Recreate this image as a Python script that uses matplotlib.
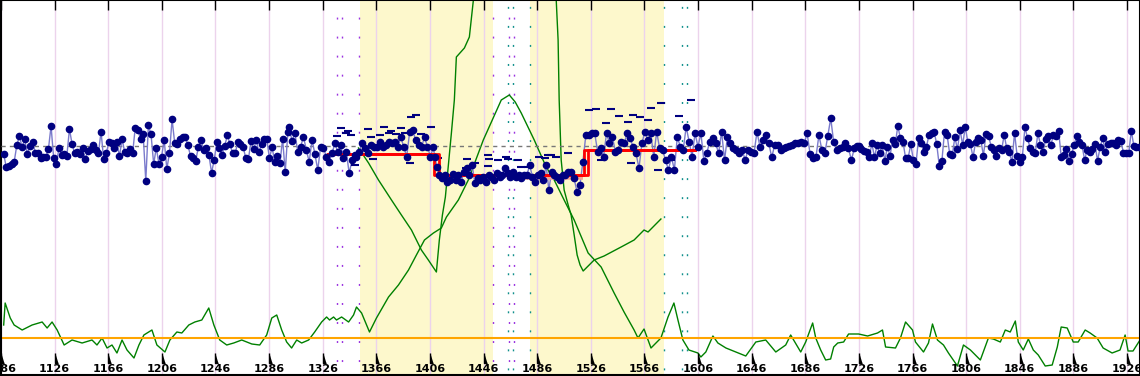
import numpy as np
import matplotlib.pyplot as plt
from matplotlib.path import Path

plt.rcParams['lines.scale_dashes'] = False

# axis
x_ticks = [1086, 1126, 1166, 1206, 1246, 1286, 1326, 1366, 1406, 1446, 1486,
           1526, 1566, 1606, 1646, 1686, 1726, 1766, 1806, 1846, 1886, 1926]
x_lim = (1087.6, 1935.7)
y_lim = (1.5, 376)

# shaded phases and event markers
phases = [(1353.5, 1453.2), (1480.8, 1580.6)]
purple_marks = [1336.3, 1340.1, 1352.7, 1453.2, 1465.2, 1468.9]
teal_marks = [1464.4, 1468.1, 1480.8, 1580.6, 1594.0, 1597.7]

centre_line = 230
limit_line = 38

# measured values (blue), in segments
blue_a = [221.7, 208.7, 210, 211.7, 214.3, 231, 240, 228.7, 236.7, 222, 230, 234.3, 223.3, 223.3,
          218.3, 218.7, 218.7, 226.7, 250, 217.7, 211.7, 227.7, 221, 222, 220, 247, 231.7, 222.7,
          224.3, 221.7, 227.7, 217, 224.7, 226.7, 231, 226, 222.7, 244.3, 216.7, 222.7, 234.3,
          232.7, 227.7, 233.7, 219.7, 237, 223.7, 223.3, 226.7, 222.7, 248.3, 246, 236.7, 242,
          195.3, 250.7, 241.7, 212, 228.3, 212, 219.3, 236, 207, 222.7, 256.7, 232.7, 232, 236.7,
          238.7, 239.3, 231, 220, 217.7, 215.3, 229.3, 236, 226, 228.3, 221, 203.3, 216, 233.7,
          228.3, 221, 230, 240.7, 232, 222.7, 222.7, 234.3, 232, 229.3, 217.7, 216.7, 235, 226.7,
          236, 223.7, 231.7, 236.7, 236.7, 217.7, 228.7, 214.3, 220, 212.7, 237.3, 203.7, 244.3]
blue_b = [248.7, 235, 242.7, 224.3, 229.3, 239.3, 226, 214.3, 236, 222, 206, 229.3, 228, 219.3,
          214.3, 222.7, 232.7, 224.3, 231, 218, 224.3, 202.7, 216, 221]
blue_c = [219.3, 224.3, 232.7, 227.7, 222.7, 231, 229.3, 229.3, 234.3, 229.3, 231, 234.3, 232.7,
          234.3, 229.3, 238.7, 229.3, 219.3, 244.3, 246, 236, 231, 229.3, 238.7, 229.3, 219.3, 229.3]
blue_d = [219.3, 209.3, 201]
blue_e = [197.7, 201, 194.3, 196, 202, 196, 201, 194.3, 204.3, 207.7, 201, 211, 192.7, 197.7, 196,
          199.3, 194.3, 201, 199.3, 196, 202.7, 199.3, 201, 207.7, 202.7, 199.3, 204.3, 199.3, 201,
          197.7, 201, 201, 211, 199.3, 194.3, 201, 203.3, 196, 211, 186, 204.3, 201, 199.3, 196,
          201, 201, 204.3]
blue_f = [204.3, 197.7, 184.3, 191, 214.3, 241, 241, 242.7, 242.7, 224.3, 227.7, 219.3, 242.7,
          232.7, 239.3, 224.3, 226, 234.3, 232.7, 242.7, 237.7, 229.3, 222.7, 207.7, 232.7, 244.3,
          236, 242.7, 219.3, 244.3, 227.7, 226, 216, 206, 219.3, 206, 239.3, 229.3, 226, 249.3,
          234.3, 219.3, 242.7, 229.3, 242.7, 215, 223.3, 234.3, 237.7, 232.7, 222.7, 244.3, 216,
          239.3, 232.7, 227.7, 226, 222.7, 226, 216, 226, 224.3, 222.7, 244.3, 229.3, 236, 241,
          232.7, 218.7, 231, 231, 226, 227.7, 229.3, 230, 231, 232.7, 233.3, 234.3, 232.7, 242.7,
          222, 217.7, 219.3, 241, 226, 222.7, 240, 257.7, 233.7, 226, 227.7, 229.3, 233.3, 227.7,
          216, 227.7, 230]
blue_g = [230, 226.7, 225.3, 224.3, 218.7, 232.7, 218.7, 231, 222.7, 231, 215.3, 229.3, 220, 236,
          231.7, 250, 237.7, 234.3, 217.7, 218.3, 231.7, 216, 211.7, 238.3, 232.7, 224.3, 228.7,
          241, 242.7, 244.3, 231.7, 210, 215.3, 244.3, 241, 222, 221, 238.7, 226.7, 246, 231,
          249.3, 233.7, 231.7, 218.7, 234.3, 237.7, 236, 220.3, 242, 240, 229.3, 226, 220.3, 227.7,
          226, 241, 227.7, 223.7, 213.7, 243.3, 220, 214.3, 218.7, 248.7, 238.3, 227.7, 224.3,
          223.3, 242.7, 231, 224.3, 236.7, 240, 231, 241, 240, 245, 218.7, 221, 226.7, 215.3, 222,
          231, 240.3, 234.3, 231, 216, 226, 224.3, 226.7, 231.7, 215.3, 228.7, 237.7, 224.3, 232,
          232.7, 232.7, 231, 236, 235.3, 222.7, 223.3, 222.7, 245, 230, 229.3, 228.7]
blue_spans = [(1088, 1300), (1301, 1350), (1351, 1408.6), (1409.5, 1413), (1415, 1509),
              (1511.3, 1724.8), (1726, 1935)]

# fitted level (red steps)
level_x = [1329.6, 1409.3, 1521.0, 1603.7]
level_x2 = [1329.6, 1413.0, 1524.0, 1603.7]
level_y = [222, 201, 226, 226]

# sub-group high/low marks
dash_x = [1339.5, 1345, 1360, 1363.6, 1371.8, 1377.3, 1384.2, 1391, 1392.2, 1395.9, 1399.6, 1407,
          1412, 1361.9, 1368.9, 1375.3, 1381, 1387.2, 1336.5, 1343, 1347, 1350,
          1433.1, 1439.3, 1449.3, 1456.7, 1464.2, 1471.6, 1479.1, 1487.7, 1494, 1508.9, 1500.2,
          1434, 1449, 1450, 1463, 1474, 1491.5, 1496.5,
          1525, 1530, 1541.1, 1547.3, 1557.2, 1562.9, 1570.9, 1578.3, 1592, 1600.7, 1537.4,
          1553.5, 1568.4, 1533.7, 1556, 1575.9, 1585.8]
dash_y = [247.7, 245.3, 246.7, 216.7, 248.7, 245, 247.7, 212.7, 258.7, 261, 242, 248.7,
          217.7, 239.3, 241, 243.3, 242, 242.7, 240, 242.7, 241, 211,
          207.7, 212.7, 210, 216, 216.7, 216, 209.3, 219.3, 221, 223.3, 219.3,
          216.7, 221, 216.7, 218.7, 209.3, 217.7, 221,
          266, 266.7, 266.7, 260, 261, 258.7, 267.7, 273.3, 260, 276, 252.7,
          254.3, 256, 216, 212.7, 206, 216]

# green statistic (continuous)
stat_x = [1088, 1089.1, 1092.9, 1095.8, 1101.8, 1109.2, 1116.7, 1120.4, 1124.1, 1127.9, 1133.1,
          1139.0, 1146.5, 1153.9, 1157.6, 1161.4, 1165.1, 1168.8, 1172.5, 1176.3, 1180.0, 1185.2,
          1188.9, 1192.6, 1198.6, 1202.3, 1208.3, 1212.0, 1217.2, 1220.9, 1226.1, 1230.6, 1235.8,
          1241.0, 1244.8, 1249.2, 1254.4, 1259.6, 1265.6, 1273.1, 1279.0, 1284.2, 1288.0, 1291.7,
          1295.4, 1299.1, 1302.8, 1306.6, 1310.3, 1315.5, 1320.0, 1325.2, 1328.9, 1331.1, 1334.1,
          1336.3, 1340.1, 1345.3, 1349.0, 1351.2, 1355.0, 1360.9, 1366.1, 1375.1, 1382.5, 1390.0,
          1395.9, 1401.9, 1408.6, 1414.5, 1418.3, 1427.2, 1434.6, 1445.8, 1453.2, 1459.2, 1465.2,
          1469.6, 1474.1, 1483.8, 1492.7, 1498.7, 1506.1, 1513.6, 1524.0, 1533.7, 1543.4, 1550.8,
          1558.3, 1561.2, 1565.7, 1570.9, 1578.3, 1583.6, 1588.0, 1591.0, 1594.7, 1599.2, 1605.9,
          1608.1, 1611.8, 1617.1, 1620.8, 1626.8, 1634.2, 1641.6, 1649.1, 1656.5, 1664.0, 1671.4,
          1675.1, 1682.6, 1686.3, 1691.5, 1693.8, 1697.5, 1701.2, 1704.9, 1707.2, 1710.2, 1714.6,
          1718.3, 1725.8, 1732.5, 1739.9, 1743.6, 1745.9, 1753.3, 1757.0, 1760.8, 1766.0, 1768.2,
          1774.2, 1777.9, 1780.9, 1784.6, 1789.1, 1792.8, 1799.5, 1804.0, 1809.2, 1816.6, 1822.6,
          1826.3, 1831.5, 1835.2, 1838.9, 1842.7, 1844.9, 1848.6, 1852.4, 1856.1, 1859.8, 1865.0,
          1870.2, 1874.0, 1876.9, 1881.4, 1885.9, 1889.6, 1894.8, 1898.5, 1903.7, 1908.2, 1914.9,
          1920.8, 1924.6, 1926.8, 1930.5, 1934.3, 1935.7]
stat_y = [51, 73, 58, 51, 46, 51, 54, 48, 54, 46, 31, 36, 33, 36, 31, 38, 28, 31, 23, 36, 26, 18,
          31, 41, 46, 31, 24, 36, 44, 43, 51, 54, 56, 68, 51, 36, 31, 33, 36, 32, 31, 41, 58, 61,
          46, 34, 28, 36, 33, 36, 44, 54, 59, 56, 59, 56, 59, 54, 61, 69, 63, 44, 58, 79, 91, 106,
          121, 136, 143, 148, 159, 176, 196, 236, 258, 276, 281, 274, 263, 236, 209, 196, 176, 156,
          123, 109, 83, 64, 46, 38, 47, 28, 38, 59, 73, 56, 36, 26, 23, 19, 24, 40, 33, 28, 24, 20,
          34, 36, 24, 31, 41, 24, 34, 53, 38, 26, 16, 17, 29, 33, 34, 42, 42, 40, 43, 46, 29, 28,
          38, 54, 46, 34, 24, 33, 52, 36, 31, 23, 10, 31, 26, 16, 38, 37, 34, 46, 44, 55, 34, 26,
          37, 26, 21, 10, 11, 29, 49, 48, 34, 34, 46, 43, 38, 28, 23, 26, 41, 25, 25, 33, 36]

# green cusum-like curves
cus_up_x = [1352.7, 1360.2, 1367.6, 1377.3, 1384.7, 1392.2, 1399.6, 1404.8, 1410.8, 1413.0, 1415.3,
            1417.5, 1422.0, 1424.2, 1425.7, 1431.7, 1435.4, 1438.4, 1441.3]
cus_up_y = [228, 213, 196, 176, 161, 146, 126, 116, 104, 136, 161, 179, 243, 276, 319, 328, 339,
            376, 436]
cus_dn_x = [1498.7, 1500.2, 1501.6, 1502.4, 1503.9, 1506.1, 1509.1, 1511.3, 1513.6, 1515.8, 1518.0,
            1520.3, 1528.5, 1535.9, 1548.6, 1558.3, 1565.7, 1568.7, 1578.3]
cus_dn_y = [436, 376, 336, 276, 216, 186, 171, 161, 141, 121, 111, 105, 116, 120, 129, 136, 146,
            144, 157]

fig = plt.figure(figsize=(11.4, 3.76), dpi=100)
ax = fig.add_axes([1 / 1140, 1.5 / 376, 1139 / 1140, 374.5 / 376])
ax.set_xlim(*x_lim)
ax.set_ylim(*y_lim)

for a, b in phases:
    ax.axvspan(a, b, color='#fdf8cc', lw=0, zorder=0)

ax.set_xticks(x_ticks)
ax.set_xticklabels([])
ax.set_yticks([])
ax.grid(axis='x', color='#ecd3ec', lw=1, zorder=0.5)
ax.set_axisbelow(True)
ax.tick_params(axis='x', top=True, bottom=False, direction='in', length=7.5, width=1,
               color='black', labelbottom=False)
for s in ['left', 'top', 'right', 'bottom']:
    ax.spines[s].set_linewidth(1.5)

for i, xm in enumerate(purple_marks):
    ax.axvline(xm, color='#9a32e0', lw=1, ls=(4, (1.4, 12.3)), zorder=1)
for xm in teal_marks:
    ax.axvline(xm, color='#10908c', lw=1, ls=(10, (1.4, 12.3)), zorder=1)

ax.plot(stat_x, stat_y, color='#008000', lw=1, zorder=2)
ax.plot(cus_up_x, cus_up_y, color='#008000', lw=1, zorder=2)
ax.plot(cus_dn_x, cus_dn_y, color='#008000', lw=1, zorder=2)
ax.axhline(limit_line, color='#ffa500', lw=1.5, zorder=2.5)
ax.axhline(centre_line, color='#777777', lw=1, ls=(0, (3, 3)), zorder=2.6)

bx, by = [], []
for (a, b), seg in zip(blue_spans, [blue_a, blue_b, blue_c, blue_d, blue_e, blue_f, blue_g]):
    bx.extend(np.linspace(a, b, len(seg)))
    by.extend(seg)
ax.plot(bx, by, color='#7a7acc', lw=1, zorder=3)

ax.plot(dash_x, dash_y, ls='none', marker='_', ms=6, mew=1.5, color='#000080', zorder=3.5)

ax.plot([1470, 1520], [199, 199], color='#f2a898', lw=4, solid_capstyle='butt', zorder=3.6)
ax.step(level_x, level_y, where='post', color='#ff0000', lw=2, zorder=3.8)
ax.step(level_x2, level_y, where='post', color='#ff0000', lw=2, zorder=3.8)

ax.plot(bx, by, ls='none', marker='o', ms=4.5, color='#000080', zorder=4)

# bottom tick marks and labels
tick_mark = Path([(0, 1), (0, -1), (0.7, -1)], [Path.MOVETO, Path.LINETO, Path.LINETO])
tr = ax.get_xaxis_transform()
ax.plot(x_ticks, [1 - 358 / 374.5] * len(x_ticks), ls='none', marker=tick_mark, ms=7,
        mew=1, color='black', transform=tr, clip_on=False, zorder=5)
for t in x_ticks:
    ax.text(t, 1 - 368.5 / 374.5, str(t), transform=tr, ha='center', va='center',
            fontsize=8, fontweight='bold', color='black', zorder=5)

fig.savefig('out.png', dpi=100, facecolor='white')
